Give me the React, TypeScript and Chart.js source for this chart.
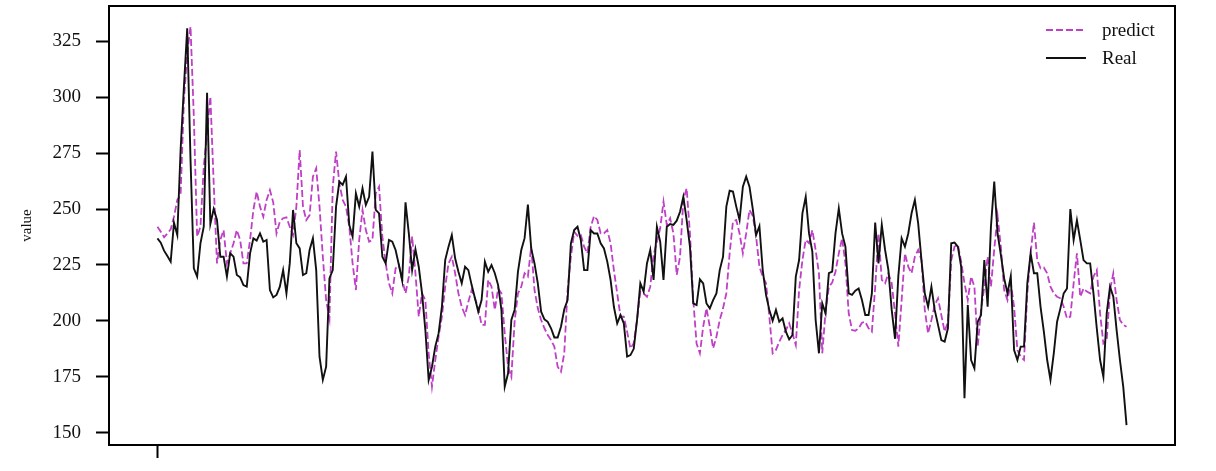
import React, { useEffect, useRef } from "react";
import { Chart, registerables } from "chart.js";

Chart.register(...registerables);

const REAL = [
  236.9, 235.0, 231.4, 229.0, 226.5, 243.9, 238.4, 276.4, 304.7, 330.8,
  272.0, 223.5, 219.8, 234.7, 242.1, 302.0, 243.3, 250.0, 245.1, 228.7,
  228.7, 219.8, 230.2, 228.7, 220.5, 219.5, 216.0, 215.3, 230.2, 236.9,
  235.9, 239.1, 235.4, 236.2, 213.8, 210.5, 211.6, 215.3, 222.7, 212.3,
  225.7, 249.6, 234.7, 232.4, 220.5, 221.3, 231.7, 236.9, 222.7, 184.0,
  173.6, 179.5, 219.0, 222.7, 251.1, 262.3, 260.8, 264.5, 242.9, 237.7,
  257.0, 251.1, 259.3, 251.8, 255.5, 275.7, 249.6, 248.1, 228.7, 225.7,
  236.2, 235.4, 231.7, 225.0, 218.0, 253.0, 239.1, 222.7, 232.0, 224.2,
  212.3, 195.9, 173.6, 179.5, 188.5, 194.4, 206.3, 227.2, 233.2, 238.4,
  228.0, 222.0, 216.8, 224.2, 222.7, 216.0, 210.1, 204.1, 209.3, 226.5,
  222.0, 225.0, 221.3, 216.0, 204.9, 170.6, 176.5, 200.4, 205.0, 222.0,
  231.7, 237.0, 252.0, 232.4, 225.7, 216.8, 204.1, 200.7, 199.6, 196.7,
  192.6, 192.6, 197.4, 205.2, 209.3, 234.7, 240.6, 242.1, 236.2, 222.7,
  222.7, 240.6, 239.1, 239.1, 234.7, 232.4, 226.5, 218.3, 206.3, 198.9,
  202.6, 198.9, 184.0, 184.7, 187.5, 200.4, 216.8, 213.1, 225.7, 231.7,
  218.3, 242.1, 235.4, 218.3, 242.1, 243.3, 242.9, 244.8, 248.8, 255.5,
  245.1, 233.2, 207.8, 207.1, 218.6, 216.8, 207.8, 205.6, 209.3, 212.3,
  222.7, 228.7, 251.1, 258.2, 257.8, 251.1, 245.1, 260.0, 264.5, 260.0,
  250.0, 238.4, 242.4, 222.7, 211.6, 204.9, 200.1, 204.9, 199.6, 201.1,
  195.2, 191.7, 193.7, 219.8, 227.2, 248.1, 255.5, 239.1, 231.0, 200.4,
  185.5, 207.8, 203.4, 221.3, 222.0, 239.1, 250.3, 239.1, 233.2, 212.3,
  211.6, 213.5, 214.5, 209.3, 202.6, 202.6, 212.3, 244.0, 225.7, 243.0,
  231.7, 222.7, 204.9, 192.0, 220.0, 236.9, 233.2, 239.1, 248.1, 254.1,
  243.6, 227.2, 212.3, 206.3, 215.3, 204.9, 198.2, 191.4, 190.7, 196.7,
  234.7, 235.0, 233.2, 224.2, 165.4, 207.1, 182.5, 178.8, 199.6, 202.6,
  227.2, 206.3, 242.1, 262.3, 239.1, 229.5, 219.0, 212.3, 220.0, 187.0,
  182.5, 188.5, 188.5, 216.8, 230.2, 221.3, 221.3, 206.3, 195.2, 182.5,
  173.6, 185.5, 199.6, 205.6, 212.3, 214.5, 250.0, 236.2, 245.0, 236.2,
  227.2, 225.7, 225.7, 212.3, 196.7, 182.5, 175.0, 203.4, 215.3, 210.8,
  195.9, 182.5, 170.6, 153.4
];

const PREDICT = [
  242.1, 239.9, 237.4, 239.1, 240.9, 246.6, 254.1, 256.3, 298.8, 319.6,
  331.6, 291.3, 237.7, 242.1, 269.0, 283.9, 300.3, 261.5, 225.7, 236.2,
  240.6, 225.7, 230.2, 234.7, 240.6, 236.2, 225.7, 225.7, 236.2, 249.6,
  257.8, 251.1, 246.6, 254.1, 258.5, 253.0, 239.1, 244.4, 245.9, 246.3,
  242.1, 238.4, 251.1, 276.4, 251.1, 245.1, 247.3, 264.5, 268.2, 251.1,
  228.7, 209.3, 201.1, 260.0, 275.7, 261.5, 254.1, 251.1, 242.1, 225.7,
  213.8, 236.2, 249.6, 240.6, 235.4, 236.2, 257.0, 260.0, 237.7, 225.7,
  216.8, 212.3, 223.5, 225.0, 218.3, 212.3, 219.8, 237.7, 221.3, 201.9,
  212.3, 209.3, 185.5, 170.6, 182.5, 192.9, 201.9, 215.3, 225.7, 228.7,
  221.3, 212.3, 206.3, 202.6, 208.6, 213.8, 210.1, 205.6, 198.2, 198.2,
  218.3, 215.3, 204.9, 214.5, 212.3, 194.4, 179.5, 175.0, 200.0, 212.3,
  215.3, 221.3, 219.8, 233.2, 213.8, 205.6, 200.4, 196.7, 193.7, 191.4,
  188.5, 179.5, 177.3, 185.5, 213.8, 228.7, 239.9, 238.0, 238.4, 233.2,
  230.2, 242.1, 246.9, 245.1, 239.1, 239.1, 240.6, 234.7, 222.7, 212.3,
  201.9, 201.9, 195.2, 187.7, 190.0, 200.4, 213.1, 212.3, 210.8, 215.3,
  229.5, 235.4, 241.4, 253.3, 242.9, 245.9, 239.1, 220.5, 228.7, 254.1,
  259.3, 239.1, 209.3, 189.9, 185.5, 197.4, 205.6, 197.4, 187.7, 192.9,
  200.4, 205.6, 212.3, 230.2, 244.4, 245.1, 239.1, 230.2, 239.1, 249.6,
  247.0, 237.7, 224.2, 219.8, 216.8, 201.9, 185.5, 187.0, 190.7, 193.7,
  195.9, 198.9, 194.4, 189.2, 213.8, 227.2, 236.2, 234.7, 240.6, 231.7,
  221.3, 185.5, 204.1, 215.3, 217.1, 222.0, 230.2, 236.9, 225.7, 203.4,
  195.9, 195.6, 196.7, 199.2, 199.6, 196.7, 195.2, 215.0, 239.1, 218.3,
  216.8, 221.3, 216.8, 203.4, 188.5, 209.3, 230.2, 224.2, 221.3, 228.7,
  231.7, 227.2, 204.9, 194.4, 200.4, 207.1, 210.1, 202.6, 195.2, 199.6,
  227.2, 233.2, 234.0, 226.5, 216.8, 209.3, 219.8, 215.3, 188.5, 204.9,
  215.3, 228.7, 215.3, 232.0, 247.0, 233.2, 213.8, 209.3, 216.8, 206.3,
  187.0, 184.0, 182.5, 212.3, 230.2, 244.0, 227.2, 223.5, 223.9, 221.3,
  215.3, 212.3, 210.8, 210.1, 206.3, 201.1, 201.9, 216.8, 230.2, 210.8,
  214.5, 213.1, 212.3, 219.8, 222.7, 203.4, 189.9, 191.4, 213.8, 221.3,
  209.3, 200.4, 198.2, 197.4
];

const Y_TICKS = [150, 175, 200, 225, 250, 275, 300, 325];
const X_TICKS = [0];
const SERIES_NAMES = ["predict", "Real"];
const Y_LABEL = "value";

const FONT = "'Liberation Serif', 'Times New Roman', serif";

export default function App() {
  const ref = useRef<HTMLCanvasElement | null>(null);

  useEffect(() => {
    if (!ref.current) return;
    const n = REAL.length;
    const margin = (n - 1) * 0.05;

    const framePlugin = {
      id: "frameAndLegend",
      afterDraw(chart: any) {
        const { ctx, chartArea: a } = chart;
        ctx.save();
        ctx.strokeStyle = "#000";
        ctx.lineWidth = 2;
        ctx.setLineDash([]);
        ctx.strokeRect(a.left, a.top, a.right - a.left, a.bottom - a.top);

        // legend inside the plot, upper right
        const ds = chart.data.datasets;
        const lineX0 = a.right - 129;
        const lineX1 = a.right - 89;
        const textX = a.right - 73;
        ds.forEach((d: any, k: number) => {
          const y = a.top + 24 + k * 28;
          ctx.beginPath();
          ctx.strokeStyle = d.borderColor;
          ctx.lineWidth = d.borderWidth;
          ctx.setLineDash(d.borderDash || []);
          ctx.moveTo(lineX0, y);
          ctx.lineTo(lineX1, y);
          ctx.stroke();
          ctx.setLineDash([]);
          ctx.fillStyle = "#111";
          ctx.font = `19px ${FONT}`;
          ctx.textBaseline = "middle";
          ctx.textAlign = "left";
          ctx.fillText(d.label, textX, y + 1);
        });
        ctx.restore();
      },
    };

    const chart = new Chart(ref.current, {
      type: "line",
      data: {
        datasets: [
          {
            label: SERIES_NAMES[0],
            data: PREDICT.map((v, i) => ({ x: i, y: v })),
            borderColor: "#bf3fc6",
            borderWidth: 1.8,
            borderDash: [7, 3],
            pointRadius: 0,
            tension: 0,
            fill: false,
            order: 1,
          },
          {
            label: SERIES_NAMES[1],
            data: REAL.map((v, i) => ({ x: i, y: v })),
            borderColor: "#111111",
            borderWidth: 1.9,
            pointRadius: 0,
            tension: 0,
            fill: false,
            order: 0,
          },
        ],
      },
      options: {
        responsive: false,
        animation: false,
        devicePixelRatio: 1,
        layout: { padding: { left: 0, top: 6, right: 41, bottom: 0 } },
        plugins: {
          legend: { display: false },
          tooltip: { enabled: false },
        },
        scales: {
          x: {
            type: "linear",
            min: -margin,
            max: n - 1 + margin,
            afterBuildTicks: (s: any) => {
              s.ticks = X_TICKS.map((v) => ({ value: v }));
            },
            afterFit: (s: any) => {
              s.height = 26;
              s.paddingLeft = 0;
              s.paddingRight = 0;
            },
            ticks: {
              callback: () => "",
              font: { family: FONT, size: 19 },
              color: "#111",
            },
            grid: {
              drawOnChartArea: false,
              drawTicks: true,
              tickLength: 13,
              tickWidth: 2,
              tickColor: "#000",
            },
            border: { display: true, color: "#000", width: 2 },
          },
          y: {
            type: "linear",
            min: 144.5,
            max: 340.8,
            afterBuildTicks: (s: any) => {
              s.ticks = Y_TICKS.map((v) => ({ value: v }));
            },
            afterFit: (s: any) => {
              s.width = 109;
              s.paddingTop = 0;
              s.paddingBottom = 0;
            },
            ticks: {
              callback: (v: any) => String(v),
              font: { family: FONT, size: 19 },
              color: "#111",
              padding: 15,
            },
            grid: {
              drawOnChartArea: false,
              drawTicks: true,
              tickLength: 13,
              tickWidth: 2,
              tickColor: "#000",
            },
            border: { display: true, color: "#000", width: 2 },
            title: {
              display: true,
              text: Y_LABEL,
              font: { family: FONT, size: 15 },
              color: "#111",
              padding: { top: 18, bottom: 0 },
            },
          },
        },
      },
      plugins: [framePlugin],
    } as any);

    return () => chart.destroy();
  }, []);

  return (
    <div style={{ position: "absolute", left: 0, top: 0, width: 1216, height: 471, background: "#fff" }}>
      <canvas ref={ref} width={1216} height={471} style={{ display: "block", width: 1216, height: 471 }} />
    </div>
  );
}
